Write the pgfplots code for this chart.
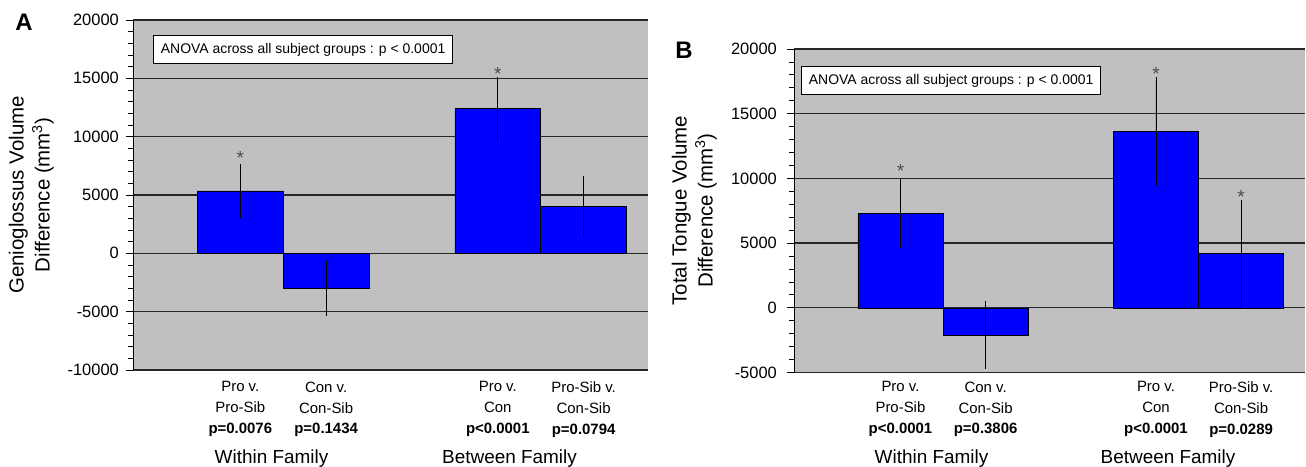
\documentclass[border=0pt]{standalone}
\usepackage{pgfplots}
\pgfplotsset{compat=1.18}
\usepackage{fontspec}
\setmainfont{Liberation Sans}
\definecolor{plotgray}{HTML}{C0C0C0}
\definecolor{barblue}{HTML}{0000FF}

\pgfplotsset{
  panel/.style={
    scale only axis,
    anchor=south west,
    ybar, bar width=1,
    xmin=-0.25, xmax=5.75,
    axis lines*=left,
    x axis line style={draw=none},
    y axis line style={black, line width=1bp},
    axis background/.style={fill=plotgray},
    ymajorgrids,
    major grid style={black!85, line width=1.2bp},
    xtick={1,2,4,5},
    xtick style={draw=none},
    ytick distance=5000, minor y tick num=4,
    tick align=outside,
    major tick length=7bp, minor tick length=5bp,
    ytick style={black, line width=0.8bp},
    /pgf/number format/assume math mode=true,
    /pgf/number format/1000 sep={},
    scaled y ticks=false,
    yticklabel style={font=\fontsize{16.5}{16.5}\selectfont, inner sep=0pt},
    xticklabel style={font=\fontsize{15}{21}\selectfont, align=center, inner sep=0pt, anchor=north},
  },
  bars/.style={
    fill=barblue, draw=black, line width=0.5bp,
    error bars/.cd, y dir=both, y explicit,
    error bar style={black, line width=0.8bp},
    error mark options={black, line width=0.8bp, mark size=3.5bp},
  },
}
\tikzset{sigstar/.style={font=\fontsize{19}{19}\selectfont, text=black!70, anchor=base, inner sep=0pt}}

\pgfplotstableread{
x y e
1 5350 2000
2 -3000 2050
4 12400 2450
5 4050 2300
}\dataA

\pgfplotstableread{
x y e
1 7300 2400
2 -2100 2350
4 13650 3950
5 4200 3850
}\dataB

\begin{document}
\begin{tikzpicture}[x=1bp, y=1bp]
\path[use as bounding box] (0bp,0bp) rectangle (1306bp,467bp);

% Panel A
\begin{axis}[panel, at={(133bp,97bp)}, width=515bp, height=350bp,
  ymin=-10000, ymax=20000,
  yticklabel style={xshift=-7bp},
  xticklabel style={yshift=-4.5bp},
  xticklabels={{Pro v.\\Pro-Sib\\\textbf{p=0.0076}},{Con v.\\Con-Sib\\\textbf{p=0.1434}},{Pro v.\\Con\\\textbf{p<0.0001}},{Pro-Sib v.\\Con-Sib\\\textbf{p=0.0794}}},
]
\addplot[bars] table[x=x, y=y, y error=e] {\dataA};
\node[sigstar] at (axis cs:1,7650) {*};
\node[sigstar] at (axis cs:4,14850) {*};
\end{axis}

% Panel B
\begin{axis}[panel, at={(794bp,94.5bp)}, width=511bp, height=323.5bp,
  ymin=-5000, ymax=20000,
  yticklabel style={xshift=-10bp},
  xticklabel style={yshift=-2bp},
  xticklabels={{Pro v.\\Pro-Sib\\\textbf{p<0.0001}},{Con v.\\Con-Sib\\\textbf{p=0.3806}},{Pro v.\\Con\\\textbf{p<0.0001}},{Pro-Sib v.\\Con-Sib\\\textbf{p=0.0289}}},
]
\addplot[bars] table[x=x, y=y, y error=e] {\dataB};
\node[sigstar] at (axis cs:1,10100) {*};
\node[sigstar] at (axis cs:4,17600) {*};
\node[sigstar] at (axis cs:5,8090) {*};
\end{axis}

% ANOVA boxes
\node[draw=black, line width=0.8bp, fill=white, anchor=north west, inner xsep=7.5bp, minimum height=28bp, font=\fontsize{14}{14}\selectfont] at (153bp,432bp) {ANOVA across all subject groups : p < 0.0001};
\node[draw=black, line width=0.8bp, fill=white, anchor=north west, inner xsep=7.5bp, minimum height=28bp, font=\fontsize{14}{14}\selectfont] at (801bp,401bp) {ANOVA across all subject groups : p < 0.0001};

% y labels
\node[rotate=90, anchor=south, align=center, inner sep=0pt, font=\fontsize{20.5}{26}\selectfont] at (54bp,272bp) {Genioglossus Volume\\Difference (mm\textsuperscript{3})};
\node[rotate=90, anchor=south, align=center, inner sep=0pt, font=\fontsize{20.5}{26}\selectfont] at (717bp,256.5bp) {Total Tongue Volume\\Difference (mm\textsuperscript{3})};

% panel letters
\node[font=\bfseries\fontsize{24}{24}\selectfont] at (24bp,445bp) {A};
\node[font=\bfseries\fontsize{24}{24}\selectfont] at (684bp,417bp) {B};

% group labels
\node[anchor=base, font=\fontsize{19}{19}\selectfont] at (271.5bp,4bp) {Within Family};
\node[anchor=base, font=\fontsize{19}{19}\selectfont] at (509.5bp,4bp) {Between Family};
\node[anchor=base, font=\fontsize{19}{19}\selectfont] at (931.5bp,4bp) {Within Family};
\node[anchor=base, font=\fontsize{19}{19}\selectfont] at (1168bp,4bp) {Between Family};
\end{tikzpicture}
\end{document}
